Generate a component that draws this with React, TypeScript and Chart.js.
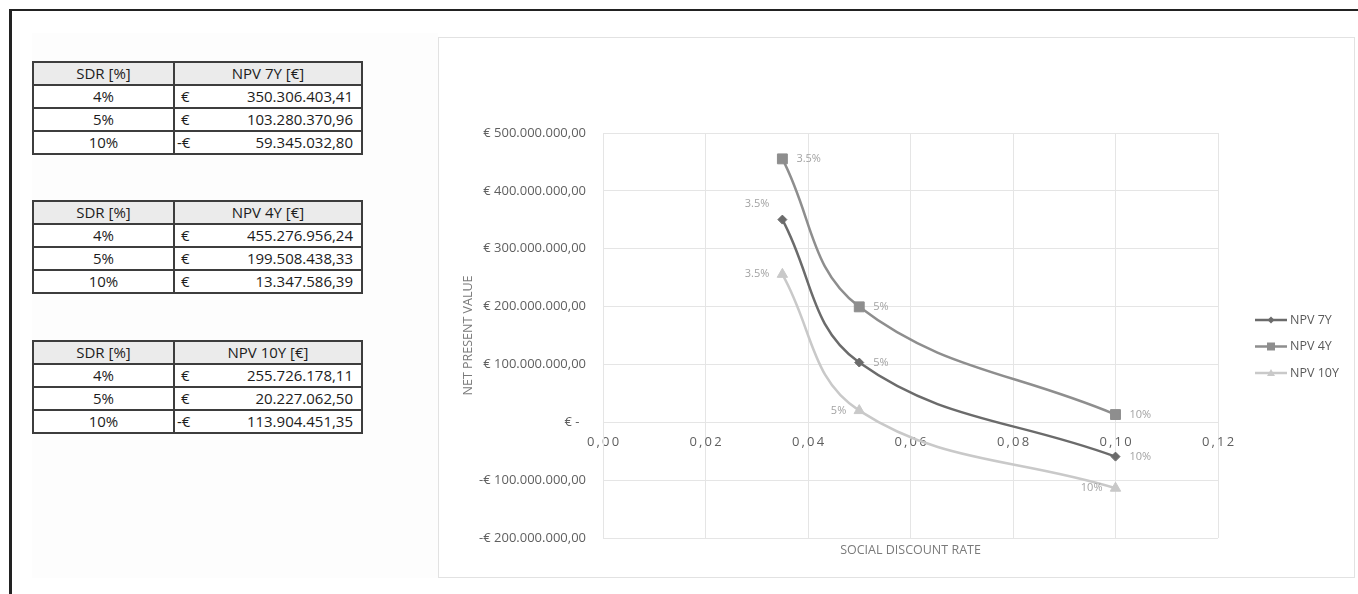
import React, { useEffect, useRef } from "react";
import { Chart, registerables } from "chart.js";

Chart.register(...registerables);

// Social discount rates of the model runs (as fractions)
const discountRates = [0.035, 0.05, 0.1];
// Rates as printed in the summary tables
const tableRates = ["4%", "5%", "10%"];
// Net present values in euro, one array per project lifetime
const npv7Y = [350306403.41, 103280370.96, -59345032.8];
const npv4Y = [455276956.24, 199508438.33, 13347586.39];
const npv10Y = [255726178.11, 20227062.5, -113904451.35];
const seriesNames = ["NPV 7Y", "NPV 4Y", "NPV 10Y"];
const tableHeaders = ["NPV 7Y [€]", "NPV 4Y [€]", "NPV 10Y [€]"];
const rateHeader = "SDR [%]";

// Axis ranges
const yMin = -200000000;
const yMax = 500000000;
const yStep = 100000000;
const xMin = 0;
const xMax = 0.12;
const xStep = 0.02;

const FONT = "'Open Sans', 'Noto Sans', sans-serif";
const seriesColors = ["#6b6b6b", "#8e8e8e", "#c9c9c9"];
const seriesMarkers = ["rectRot", "rect", "triangle"];
const markerRadius = [4.5, 7, 6];
// where each value label sits relative to its point
const labelPlacement = [
  ["leftUp", "right", "right"],
  ["right", "right", "right"],
  ["left", "left", "left"],
];

function groupEuro(v: number): string {
  const [int, dec] = Math.abs(v).toFixed(2).split(".");
  return int.replace(/\B(?=(\d{3})+(?!\d))/g, ".") + "," + dec;
}

function yTickLabel(v: number): string {
  if (v === 0) return "€ -\u2002";
  return (v < 0 ? "-€ " : "€ ") + groupEuro(v);
}

function xTickLabel(v: number): string {
  const s = v.toFixed(2).replace(".", ",");
  return s.split("").join("\u2009");
}

function rateLabel(r: number): string {
  return `${+(r * 100).toFixed(1)}%`;
}

function drawMarker(ctx: CanvasRenderingContext2D, kind: string, x: number, y: number, s: number) {
  ctx.beginPath();
  if (kind === "rectRot") {
    ctx.moveTo(x - s, y);
    ctx.lineTo(x, y - s);
    ctx.lineTo(x + s, y);
    ctx.lineTo(x, y + s);
  } else if (kind === "rect") {
    ctx.rect(x - s, y - s, 2 * s, 2 * s);
  } else {
    ctx.moveTo(x, y - s);
    ctx.lineTo(x + s, y + s * 0.75);
    ctx.lineTo(x - s, y + s * 0.75);
  }
  ctx.closePath();
  ctx.fill();
}

const valueLabels = {
  id: "valueLabels",
  afterDatasetsDraw(chart: any) {
    const ctx = chart.ctx as CanvasRenderingContext2D;
    ctx.save();
    ctx.font = `11px ${FONT}`;
    ctx.fillStyle = "#a3a3a3";
    ctx.textBaseline = "middle";
    chart.data.datasets.forEach((_: any, di: number) => {
      const meta = chart.getDatasetMeta(di);
      meta.data.forEach((el: any, i: number) => {
        const place = labelPlacement[di][i];
        const text = rateLabel(discountRates[i]);
        let x = el.x;
        let y = el.y;
        if (place === "right") {
          ctx.textAlign = "left";
          x += 14;
        } else if (place === "left") {
          ctx.textAlign = "right";
          x -= 13;
        } else {
          ctx.textAlign = "right";
          x -= 13;
          y -= 16;
        }
        ctx.fillText(text, x, y);
      });
    });
    ctx.restore();
  },
};

const sideLegend = {
  id: "sideLegend",
  afterDraw(chart: any) {
    const ctx = chart.ctx as CanvasRenderingContext2D;
    const area = chart.chartArea;
    const x0 = area.right + 37;
    const top = area.top + 187;
    const gap = 26.5;
    ctx.save();
    ctx.font = `12.5px ${FONT}`;
    ctx.textBaseline = "middle";
    ctx.textAlign = "left";
    seriesNames.forEach((name, i) => {
      const y = top + i * gap;
      ctx.strokeStyle = seriesColors[i];
      ctx.fillStyle = seriesColors[i];
      ctx.lineWidth = 2.5;
      ctx.beginPath();
      ctx.moveTo(x0, y);
      ctx.lineTo(x0 + 32, y);
      ctx.stroke();
      drawMarker(ctx, seriesMarkers[i], x0 + 16, y, i === 0 ? 3.5 : 4);
      ctx.fillStyle = "#5a5a5a";
      ctx.fillText(name, x0 + 35, y);
    });
    ctx.restore();
  },
};

const bottomTitle = {
  id: "bottomTitle",
  afterDraw(chart: any) {
    const ctx = chart.ctx as CanvasRenderingContext2D;
    const area = chart.chartArea;
    ctx.save();
    ctx.font = `12.5px ${FONT}`;
    ctx.fillStyle = "#7a7a7a";
    ctx.textAlign = "center";
    ctx.textBaseline = "middle";
    ctx.fillText("SOCIAL DISCOUNT RATE", (area.left + area.right) / 2, area.bottom + 12);
    ctx.restore();
  },
};

function NpvChart() {
  const ref = useRef<HTMLCanvasElement | null>(null);
  useEffect(() => {
    if (!ref.current) return;
    const seriesValues = [npv7Y, npv4Y, npv10Y];
    const gridColor = "#e5e5e5";
    const chart = new Chart(ref.current, {
      type: "scatter",
      data: {
        datasets: seriesValues.map((vals, i) => ({
          label: seriesNames[i],
          data: discountRates.map((r, j) => ({ x: r, y: vals[j] })),
          showLine: true,
          tension: 0.4,
          borderColor: seriesColors[i],
          backgroundColor: seriesColors[i],
          borderWidth: 2.5,
          pointStyle: seriesMarkers[i] as any,
          pointRadius: markerRadius[i],
          pointBorderWidth: 1,
          pointBorderColor: seriesColors[i],
          pointBackgroundColor: seriesColors[i],
        })),
      },
      options: {
        animation: false,
        responsive: false,
        devicePixelRatio: 1,
        events: [],
        layout: { padding: { top: 95, right: 136, bottom: 39, left: 0 } },
        plugins: {
          legend: { display: false },
          tooltip: { enabled: false },
        },
        scales: {
          x: {
            type: "linear",
            min: xMin,
            max: xMax,
            position: { y: 0 } as any,
            grid: { color: gridColor, drawTicks: false },
            border: { color: gridColor },
            ticks: {
              stepSize: xStep,
              autoSkip: false,
              maxRotation: 0,
              padding: 12,
              color: "#5f5f5f",
              font: { family: FONT, size: 13 },
              callback: (v: any) => xTickLabel(Number(v)),
            },
            afterFit: (scale: any) => {
              scale.height = 0;
            },
          },
          y: {
            type: "linear",
            min: yMin,
            max: yMax,
            grid: { color: gridColor, drawTicks: false },
            border: { color: gridColor },
            ticks: {
              stepSize: yStep,
              padding: 17,
              color: "#5f5f5f",
              font: { family: FONT, size: 13 },
              callback: (v: any) => yTickLabel(Number(v)),
            },
            title: {
              display: true,
              text: "NET PRESENT VALUE",
              color: "#7a7a7a",
              font: { family: FONT, size: 12.5 },
              padding: { top: 22, bottom: 0 },
            },
            afterFit: (scale: any) => {
              scale.width = 164;
            },
          },
        },
      },
      plugins: [valueLabels, sideLegend, bottomTitle],
    });
    return () => chart.destroy();
  }, []);
  return <canvas ref={ref} width={915} height={539} style={{ display: "block" }} />;
}

function NpvTable({ header, values, top }: { header: string; values: number[]; top: number }) {
  const border = "2px solid #3d3d3d";
  const rowH = 21;
  const cellBase: React.CSSProperties = {
    height: rowH,
    lineHeight: `${rowH}px`,
    boxSizing: "border-box",
  };
  return (
    <div
      style={{
        position: "absolute",
        left: 32,
        top,
        width: 331,
        border,
        boxSizing: "border-box",
        fontFamily: FONT,
        fontSize: 15,
        color: "#1c1c1c",
        background: "#fff",
      }}
    >
      <div style={{ display: "flex", background: "#ebebeb" }}>
        <div style={{ ...cellBase, width: 141, borderRight: border, textAlign: "center" }}>{rateHeader}</div>
        <div style={{ ...cellBase, flex: 1, textAlign: "center" }}>{header}</div>
      </div>
      {values.map((v, i) => (
        <div key={i} style={{ display: "flex", borderTop: border }}>
          <div style={{ ...cellBase, width: 141, borderRight: border, textAlign: "center" }}>{tableRates[i]}</div>
          <div style={{ ...cellBase, flex: 1, display: "flex", justifyContent: "space-between", padding: "0 8px 0 2px" }}>
            <span>{v < 0 ? "-€" : "\u00a0€"}</span>
            <span>{groupEuro(v)}</span>
          </div>
        </div>
      ))}
    </div>
  );
}

export default function App() {
  return (
    <div
      style={{
        position: "absolute",
        left: 0,
        top: 0,
        width: 1358,
        height: 594,
        background: "#ffffff",
        overflow: "hidden",
      }}
    >
      <div style={{ position: "absolute", left: 9, top: 9, right: 0, height: 2, background: "#222" }} />
      <div style={{ position: "absolute", left: 9, top: 9, width: 3, bottom: 0, background: "#222" }} />
      <div style={{ position: "absolute", left: 32, top: 33, width: 406, height: 545, background: "#fdfdfd" }} />
      <NpvTable header={tableHeaders[0]} values={npv7Y} top={61} />
      <NpvTable header={tableHeaders[1]} values={npv4Y} top={200} />
      <NpvTable header={tableHeaders[2]} values={npv10Y} top={340} />
      <div
        style={{
          position: "absolute",
          left: 438,
          top: 37,
          width: 917,
          height: 541,
          border: "1px solid #e2e2e2",
          boxSizing: "border-box",
          background: "#fff",
        }}
      >
        <NpvChart />
      </div>
    </div>
  );
}
